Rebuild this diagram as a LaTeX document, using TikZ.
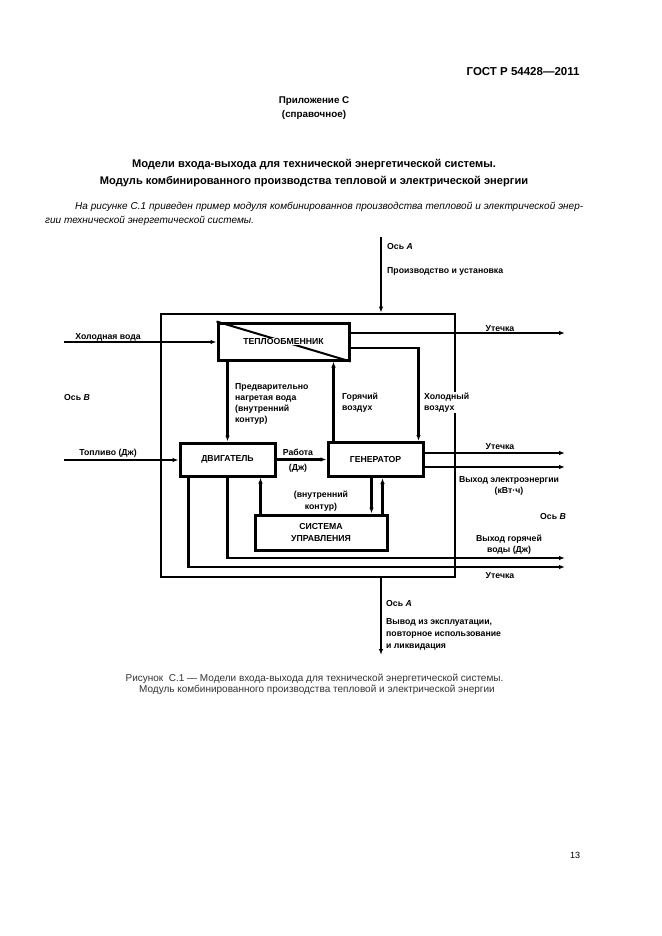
\documentclass[tikz,border=0pt]{standalone}
\usepackage{fontspec}
\setmainfont{Liberation Sans}
\usetikzlibrary{arrows.meta,positioning}

\begin{document}
\begin{tikzpicture}[x=1pt,y=-1pt,>={Latex[length=6pt,width=4.5pt]},
    blk/.style={draw,rectangle,line width=3pt,inner sep=0pt,
      font=\fontsize{8.7}{12}\selectfont\bfseries,align=center},
    flow/.style={->,line width=2.6pt},
    lbl/.style={font=\fontsize{8.7}{11}\selectfont\bfseries,inner sep=0pt},
    lbll/.style={lbl,align=left,anchor=base west}]
\useasboundingbox[fill=white] (0,0) rectangle (661,936);

% page texts
\node[anchor=base east,font=\fontsize{11.5}{13}\selectfont\bfseries] (gost) at (583,76) {ГОСТ Р 54428—2011};
\node[anchor=base,align=center,font=\fontsize{9.8}{14}\selectfont\bfseries] (annex) at (314,118) {Приложение С\\(справочное)};
\node[anchor=base,align=center,font=\fontsize{11.1}{17}\selectfont\bfseries] (title) at (314,184)
  {Модели входа-выхода для технической энергетической системы.\\Модуль комбинированного производства тепловой и электрической энергии};
\node[anchor=base west,inner sep=0pt,font=\fontsize{10}{14}\selectfont\itshape] (par1) at (75,209)
  {\makebox[508pt][s]{На рисунке С.1 приведен пример модуля комбинированнов производства тепловой и электрической энер-}};
\node[anchor=base west,inner sep=0pt,font=\fontsize{10}{14}\selectfont\itshape] (par2) at (45,223)
  {гии технической энергетической системы.};

% blocks
\node[draw,rectangle,line width=2.8pt,minimum width=294pt,minimum height=263pt] (frame) at (308,445.5) {};
\node[blk,minimum width=131pt,minimum height=37pt] (hx) at (283.5,341.5) {};
\draw[line width=2pt] (hx.north west) -- (hx.south east);
\node[font=\fontsize{8.7}{10}\selectfont\bfseries,fill=white,inner sep=0.5pt] at (hx) {ТЕПЛООБМЕННИК};
\node[blk,minimum width=95pt,minimum height=33pt] (eng) at (227.5,459.5) {ДВИГАТЕЛЬ};
\node[blk,minimum width=95pt,minimum height=34pt,right of=eng,node distance=148pt] (gen) {ГЕНЕРАТОР};
\node[blk,minimum width=132pt,minimum height=35pt] (ctl) at (321,532.5) {СИСТЕМА\\УПРАВЛЕНИЯ};

% free ends
\coordinate (cwIn) at (64,342);
\coordinate (fuelIn) at (64,460);
\coordinate (leakA) at (565,333);
\coordinate (leakB) at (565,453);
\coordinate (elOut) at (565,467);
\coordinate (hwOut) at (565,558);
\coordinate (leakC) at (565,567);
\coordinate (axTop) at (381,237);
\coordinate (axBot) at (381,655);
\coordinate (hotA) at ([xshift=7pt]gen.north west);
\coordinate (ctlE) at ([xshift=7pt]ctl.north west);
\coordinate (genC) at ([xshift=-17pt]ctl.north east);
\coordinate (ctlG) at ([xshift=-6pt]ctl.north east);

% connectors
\draw[flow] (axTop) -- (axTop |- frame.north);
\draw[flow] (axTop |- frame.south) -- (axBot);
\draw[flow] (cwIn) -- (cwIn -| hx.west);
\draw[flow] (fuelIn) -- (fuelIn -| eng.west);
\draw[flow] (leakA -| hx.east) -- (leakA);
\draw[flow] ([yshift=-6.5pt]hx.east) -| ([xshift=-6pt]gen.north east);
\draw[flow] (hotA) -- (hotA |- hx.south);
\draw[flow] (hx.south -| eng.north) -- (eng.north);
\draw[flow] (eng.east) -- (eng.east -| gen.west);
\draw[flow] (leakB -| gen.east) -- (leakB);
\draw[flow] (elOut -| gen.east) -- (elOut);
\draw[flow] (ctlE) -- (ctlE |- eng.south);
\draw[flow] (genC |- gen.south) -- (genC);
\draw[flow] (ctlG) -- (ctlG |- gen.south);
\draw[flow] (eng.south) |- (hwOut);
\draw[flow] ([xshift=10pt]eng.south west) |- (leakC);

% labels
\node[lbl,anchor=base] at (108,339) {Холодная вода};
\node[lbl,anchor=base] at (108,455) {Топливо (Дж)};
\node[lbl,anchor=base] at (77,400) {Ось \textit{В}};
\node[lbl,anchor=base] at (500,331) {Утечка};
\node[lbll] at (235,422) {Предварительно\\нагретая вода\\(внутренний\\контур)};
\node[lbll] at (342,410) {Горячий\\воздух};
\node[lbll,fill=white,inner sep=1pt] at (423,410) {Холодный\\воздух};
\node[lbl,anchor=base,align=center,font=\fontsize{8.7}{15}\selectfont\bfseries] at (298,470) {Работа\\(Дж)};
\node[lbl,anchor=base] at (500,449) {Утечка};
\node[lbl,anchor=base,align=center] at (509,493) {Выход электроэнергии\\(кВт·ч)};
\node[lbl,anchor=base] at (553,519) {Ось \textit{В}};
\node[lbl,anchor=base,align=center,font=\fontsize{8.7}{12}\selectfont\bfseries] at (321,509) {(внутренний\\контур)};
\node[lbl,anchor=base,align=center] at (509,552) {Выход горячей\\воды (Дж)};
\node[lbl,anchor=base] at (500,578) {Утечка};
\node[lbll] at (387,249) {Ось \textit{А}};
\node[lbll] at (387,273) {Производство и установка};
\node[lbll] at (386,606) {Ось \textit{А}};
\node[lbll,font=\fontsize{8.7}{12}\selectfont\bfseries] at (386,648) {Вывод из эксплуатации,\\повторное использование\\и ликвидация};

% caption
\node[anchor=base,inner sep=0pt,font=\fontsize{10}{11}\selectfont,text=black!80] (cap1) at (314.5,681)
  {Рисунок\ \ С.1 — Модели входа-выхода для технической энергетической системы.};
\node[anchor=base,inner sep=0pt,font=\fontsize{10}{11}\selectfont,text=black!80] (cap2) at (317,692)
  {Модуль комбинированного производства тепловой и электрической энергии};
\node[anchor=base,font=\fontsize{9}{11}\selectfont] (pgno) at (575,858) {13};
\end{tikzpicture}
\end{document}
